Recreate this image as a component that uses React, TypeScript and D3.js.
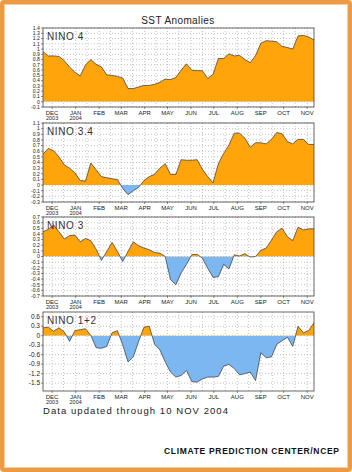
import React from 'react';
import * as d3 from 'd3';

// weekly SST anomalies, Wednesdays from 19 Nov 2003 through 10 Nov 2004
const firstWeek = new Date(2003, 10, 19);
const lastWeek = new Date(2004, 10, 10);

const nino4 = [
  0.95, 0.87, 0.87, 0.86, 0.78, 0.66, 0.56, 0.49, 0.70, 0.80, 0.71, 0.66, 0.51,
  0.50, 0.48, 0.45, 0.25, 0.25, 0.28, 0.31, 0.31, 0.33, 0.37, 0.43, 0.42, 0.46,
  0.60, 0.72, 0.60, 0.59, 0.59, 0.44, 0.52, 0.82, 0.82, 0.91, 0.87, 0.88, 0.80,
  0.74, 0.88, 1.11, 1.16, 1.15, 1.14, 1.05, 1.03, 1.00, 1.25, 1.26, 1.23, 1.17,
];
const nino34 = [
  0.55, 0.65, 0.61, 0.50, 0.36, 0.30, 0.22, 0.08, 0.07, 0.39, 0.27, 0.15, 0.13,
  0.11, 0.10, -0.06, -0.17, -0.10, -0.04, 0.08, 0.15, 0.19, 0.30, 0.38, 0.19, 0.19,
  0.45, 0.44, 0.44, 0.45, 0.28, 0.15, 0.04, 0.38, 0.56, 0.71, 0.92, 0.92, 0.83,
  0.67, 0.75, 0.75, 0.73, 0.81, 0.93, 0.91, 0.77, 0.73, 0.81, 0.81, 0.72, 0.72,
];
const nino3 = [
  0.44, 0.48, 0.56, 0.44, 0.31, 0.37, 0.38, 0.26, 0.32, 0.28, 0.13, -0.07, 0.09,
  0.25, 0.09, -0.09, 0.09, 0.26, 0.19, 0.15, 0.12, 0.07, 0.06, 0.0, -0.41, -0.50,
  -0.29, -0.14, 0.03, 0.04, -0.03, -0.21, -0.37, -0.36, -0.14, -0.22, 0.03, 0.01, 0.05,
  -0.01, 0.0, 0.11, 0.15, 0.29, 0.44, 0.50, 0.35, 0.28, 0.52, 0.47, 0.49, 0.49,
];
const nino12 = [
  0.25, 0.27, 0.14, 0.25, 0.12, -0.18, 0.16, 0.19, 0.22, 0.01, -0.38, -0.40, -0.34,
  0.09, 0.16, -0.29, -0.83, -0.67, -0.18, 0.27, 0.30, -0.27, -0.45, -0.83, -1.15, -1.31,
  -1.26, -1.10, -1.45, -1.47, -1.37, -1.31, -1.31, -1.29, -0.96, -0.91, -1.04, -1.24, -1.20,
  -1.15, -1.42, -0.54, -0.70, -0.67, -0.27, -0.16, -0.05, -0.34, 0.30, 0.09, 0.16, 0.41,
];

const panelNames = ['NINO 4', 'NINO 3.4', 'NINO 3', 'NINO 1+2'];
const panelSeries = [nino4, nino34, nino3, nino12];
const panelDomains = [[-0.1, 1.4], [-0.3, 1.1], [-0.7, 0.7], [-1.75, 0.75]];
const panelTicks = [
  [-0.1, 0, 0.1, 0.2, 0.3, 0.4, 0.5, 0.6, 0.7, 0.8, 0.9, 1, 1.1, 1.2, 1.3, 1.4],
  [-0.3, -0.2, -0.1, 0, 0.1, 0.2, 0.3, 0.4, 0.5, 0.6, 0.7, 0.8, 0.9, 1, 1.1],
  [-0.7, -0.6, -0.5, -0.4, -0.3, -0.2, -0.1, 0, 0.1, 0.2, 0.3, 0.4, 0.5, 0.6, 0.7],
  [-1.5, -1.2, -0.9, -0.6, -0.3, 0, 0.3, 0.6],
];

const monthLabels = ['DEC', 'JAN', 'FEB', 'MAR', 'APR', 'MAY', 'JUN', 'JUL', 'AUG', 'SEP', 'OCT', 'NOV'];
const yearLabels = ['2003', '2004'];

const W = 352;
const H = 472;
const left = 43;
const right = 314;
const panelH = 79;
const panelTops = [28, 123, 217, 312];
const ORANGE = '#FFA40A';
const BLUE = '#7DB7F2';
const font = "'Liberation Sans', 'DejaVu Sans', sans-serif";

const weeks = nino4.map((_, i) => d3.timeDay.offset(firstWeek, 7 * i));
const x = d3.scaleTime().domain([firstWeek, lastWeek]).range([left, right]);
const monthStarts = d3.timeMonth.range(new Date(2003, 11, 1), new Date(2004, 10, 2));
const gridDates = monthStarts.flatMap(m => [m, d3.timeDay.offset(m, 15)]).filter(d => d <= lastWeek);

function Panel({ idx }: { idx: number }) {
  const top = panelTops[idx];
  const values = panelSeries[idx];
  const y = d3.scaleLinear().domain(panelDomains[idx]).range([top + panelH, top]);
  const y0 = y(0);
  const area = d3.area<number>()
    .x((_, i) => x(weeks[i]))
    .y0(y0)
    .y1(d => y(d));
  const line = d3.line<number>()
    .x((_, i) => x(weeks[i]))
    .y(d => y(d));
  const ticks = panelTicks[idx];
  const dense = ticks.length > 10;
  const bottom = top + panelH;

  return (
    <g>
      <defs>
        <clipPath id={`pos${idx}`}>
          <rect x={left} y={top} width={right - left} height={y0 - top} />
        </clipPath>
        <clipPath id={`neg${idx}`}>
          <rect x={left} y={y0} width={right - left} height={bottom - y0} />
        </clipPath>
      </defs>
      {/* grid */}
      {gridDates.map((d, i) => (
        <line key={'v' + i} x1={x(d)} x2={x(d)} y1={top} y2={bottom}
          stroke="#9a9a9a" strokeWidth={0.6} strokeDasharray="1,2" />
      ))}
      {ticks.map((t, i) => (
        <line key={'h' + i} x1={left} x2={right} y1={y(t)} y2={y(t)}
          stroke="#9a9a9a" strokeWidth={0.6} strokeDasharray="1,2" />
      ))}
      {/* areas */}
      <path d={area(values) || ''} fill={ORANGE} clipPath={`url(#pos${idx})`} />
      <path d={area(values) || ''} fill={BLUE} clipPath={`url(#neg${idx})`} />
      <path d={line(values) || ''} fill="none" stroke="#333" strokeWidth={0.7} />
      {/* frame */}
      <rect x={left} y={top} width={right - left} height={panelH} fill="none" stroke="#444" strokeWidth={0.8} />
      {/* y axis */}
      {ticks.map((t, i) => (
        <g key={'yt' + i}>
          <line x1={left - 2} x2={left} y1={y(t)} y2={y(t)} stroke="#444" strokeWidth={0.6} />
          <text x={left - 3} y={y(t)} dy="0.35em" textAnchor="end"
            fontSize={dense ? 5.2 : 6.5} fontFamily={font} fill="#222">{String(t)}</text>
        </g>
      ))}
      {/* x axis */}
      {monthStarts.map((m, i) => (
        <g key={'xt' + i}>
          <line x1={x(m)} x2={x(m)} y1={bottom} y2={bottom + 2} stroke="#444" strokeWidth={0.6} />
          <text x={x(m)} y={bottom + 7.5} textAnchor="middle" fontSize={6} fontFamily={font} fill="#222">
            {monthLabels[i]}
          </text>
          {i < 2 && (
            <text x={x(m)} y={bottom + 13} textAnchor="middle" fontSize={5.5} fontFamily={font} fill="#222">
              {yearLabels[i]}
            </text>
          )}
        </g>
      ))}
      <text x={47} y={top + 12} fontSize={10} fontFamily={font} fill="#333" letterSpacing={0.6}>
        {panelNames[idx]}
      </text>
    </g>
  );
}

export default function App() {
  return (
    <div style={{ position: 'fixed', left: 0, top: 0 }}>
      <svg width={W} height={H} viewBox={`0 0 ${W} ${H}`}>
        <rect x={0} y={0} width={W} height={H} fill="#fff" />
        <rect x={2} y={2} width={W - 4} height={H - 4} fill="none" stroke="#EE9A45" strokeWidth={4} rx={2} />
        <rect x={4.5} y={4.5} width={W - 9} height={H - 9} fill="none" stroke="#F8CFA0" strokeWidth={1} />
        <text x={178} y={24} textAnchor="middle" fontSize={10} fontFamily={font} fill="#222" letterSpacing={0.4}>
          SST Anomalies
        </text>
        {panelNames.map((_, i) => <Panel key={i} idx={i} />)}
        <text x={43} y={414} fontSize={9.5} fontFamily={font} fill="#222" textLength={185} lengthAdjust="spacing">
          Data updated through 10 NOV 2004
        </text>
        <text x={164} y={454} fontSize={8.5} fontWeight="bold" fontFamily={font} fill="#111" textLength={175} lengthAdjust="spacing">
          CLIMATE PREDICTION CENTER/NCEP
        </text>
      </svg>
    </div>
  );
}
